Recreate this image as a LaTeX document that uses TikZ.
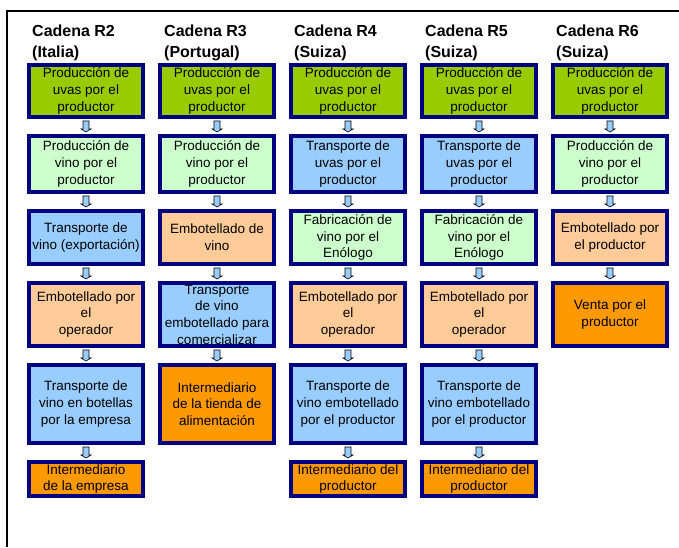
\documentclass[tikz,border=0pt]{standalone}
\usepackage{fontspec}
\setmainfont{Liberation Sans}
\usetikzlibrary{positioning}
\usetikzlibrary{calc}

\definecolor{marino}{HTML}{000080}
\definecolor{verdeuva}{HTML}{99CC00}
\definecolor{verdeclaro}{HTML}{CCFFCC}
\definecolor{azulclaro}{HTML}{99CCFF}
\definecolor{melocoton}{HTML}{FFCC99}
\definecolor{naranja}{HTML}{FF9900}

\begin{document}
\begin{tikzpicture}[x=1pt,y=1pt]
  \tikzset{caja/.style={rectangle, draw=marino, line width=4pt,
      minimum width=114pt, inner sep=0pt, align=center,
      font=\fontsize{13.5}{16.7}\selectfont}}
  \tikzset{uvas/.style={caja, fill=verdeuva}}
  \tikzset{vino/.style={caja, fill=verdeclaro}}
  \tikzset{transporte/.style={caja, fill=azulclaro}}
  \tikzset{embotellado/.style={caja, fill=melocoton}}
  \tikzset{venta/.style={caja, fill=naranja}}
  \tikzset{filaA/.style={minimum height=52pt}}
  \tikzset{filaB/.style={minimum height=56pt}}
  \tikzset{filaC/.style={minimum height=53pt}}
  \tikzset{filaD/.style={minimum height=63pt}}
  \tikzset{filaE/.style={minimum height=78pt}}
  \tikzset{filaF/.style={minimum height=34pt}}
  \tikzset{cabecera/.style={anchor=base west, align=left, inner sep=0pt,
      font=\bfseries\fontsize{16}{21}\selectfont}}
  \tikzset{flecha/.style={draw=black, line width=0.6pt, fill=azulclaro}}
  \useasboundingbox (0,0) rectangle (679,547);
  \draw[line width=2.5pt] (679,536) -- (7,536) -- (7,0);
  % primera fila
  \node[uvas, filaA] (r2a) at (86,456) {Producción de\\uvas por el\\productor};
  \node[uvas, filaA] (r3a) [right=13pt of r2a] {Producción de\\uvas por el\\productor};
  \node[uvas, filaA] (r4a) [right=13pt of r3a] {Producción de\\uvas por el\\productor};
  \node[uvas, filaA] (r5a) [right=13pt of r4a] {Producción de\\uvas por el\\productor};
  \node[uvas, filaA] (r6a) [right=13pt of r5a] {Producción de\\uvas por el\\productor};
  % cabeceras
  \node[cabecera] (h2) at ($(r2a.north west)+(5,5)$) {Cadena R2\\(Italia)};
  \node[cabecera] (h3) at ($(r3a.north west)+(6,5)$) {Cadena R3\\(Portugal)};
  \node[cabecera] (h4) at ($(r4a.north west)+(5,5)$) {Cadena R4\\(Suiza)};
  \node[cabecera] (h5) at ($(r5a.north west)+(5,5)$) {Cadena R5\\(Suiza)};
  \node[cabecera] (h6) at ($(r6a.north west)+(5,5)$) {Cadena R6\\(Suiza)};
  % cadena R2
  \node[vino, filaB] (r2b) [below=15pt of r2a] {Producción de\\vino por el\\productor};
  \node[transporte, filaC] (r2c) [below=15pt of r2b] {Transporte de\\vino (exportación)};
  \node[embotellado, filaD] (r2d) [below=15pt of r2c] {Embotellado por\\el\\operador};
  \node[transporte, filaE] (r2e) [below=15pt of r2d] {Transporte de\\vino en botellas\\por la empresa};
  \node[venta, filaF] (r2f) [below=15pt of r2e] {Intermediario\\de la empresa};
  % cadena R3
  \node[vino, filaB] (r3b) [below=15pt of r3a] {Producción de\\vino por el\\productor};
  \node[embotellado, filaC] (r3c) [below=15pt of r3b] {Embotellado de\\vino};
  \node[transporte, filaD, inner ysep=-2pt] (r3d) [below=15pt of r3c] {Transporte\\de vino\\embotellado para\\comercializar};
  \node[venta, filaE] (r3e) [below=15pt of r3d] {Intermediario\\de la tienda de\\alimentación};
  % cadena R4
  \node[transporte, filaB] (r4b) [below=15pt of r4a] {Transporte de\\uvas por el\\productor};
  \node[vino, filaC] (r4c) [below=15pt of r4b] {Fabricación de\\vino por el\\Enólogo};
  \node[embotellado, filaD] (r4d) [below=15pt of r4c] {Embotellado por\\el\\operador};
  \node[transporte, filaE] (r4e) [below=15pt of r4d] {Transporte de\\vino embotellado\\por el productor};
  \node[venta, filaF] (r4f) [below=15pt of r4e] {Intermediario del\\productor};
  % cadena R5
  \node[transporte, filaB] (r5b) [below=15pt of r5a] {Transporte de\\uvas por el\\productor};
  \node[vino, filaC] (r5c) [below=15pt of r5b] {Fabricación de\\vino por el\\Enólogo};
  \node[embotellado, filaD] (r5d) [below=15pt of r5c] {Embotellado por\\el\\operador};
  \node[transporte, filaE] (r5e) [below=15pt of r5d] {Transporte de\\vino embotellado\\por el productor};
  \node[venta, filaF] (r5f) [below=15pt of r5e] {Intermediario del\\productor};
  % cadena R6
  \node[vino, filaB] (r6b) [below=15pt of r6a] {Producción de\\vino por el\\productor};
  \node[embotellado, filaC] (r6c) [below=15pt of r6b] {Embotellado por\\el productor};
  \node[venta, filaD] (r6d) [below=15pt of r6c] {Venta por el\\productor};
  % flechas
  \foreach \a/\b in {r2a/r2b, r2b/r2c, r2c/r2d, r2d/r2e, r2e/r2f,
      r3a/r3b, r3b/r3c, r3c/r3d, r3d/r3e,
      r4a/r4b, r4b/r4c, r4c/r4d, r4d/r4e, r4e/r4f,
      r5a/r5b, r5b/r5c, r5c/r5d, r5d/r5e, r5e/r5f,
      r6a/r6b, r6b/r6c, r6c/r6d}
    \draw[flecha] ($(\a.south)!0.5!(\b.north)+(-3,5.5)$) -- ++(6,0) -- ++(0,-8)
      -- ++(2,0) -- ++(-5,-3) -- ++(-5,3) -- ++(2,0) -- cycle;
\end{tikzpicture}
\end{document}
